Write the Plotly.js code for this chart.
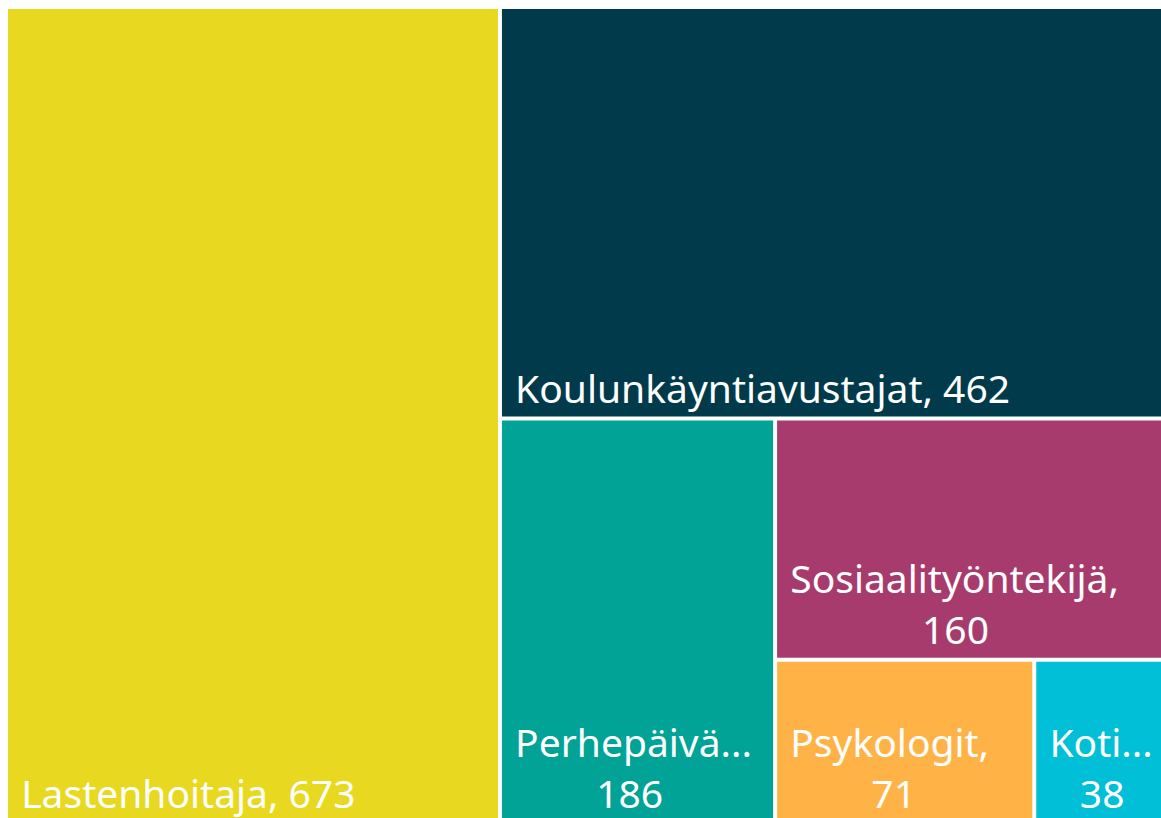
<!DOCTYPE html>
<html>
<head>
<meta charset="utf-8">
<script src="https://cdn.plot.ly/plotly-3.0.1.min.js"></script>
<style>html,body{margin:0;padding:0;background:#fff;overflow:hidden;}#chart{width:1171px;height:822px;}</style>
</head>
<body>
<div id="chart"></div>
<script>
const labels = ["Lastenhoitaja", "Koulunkäyntiavustajat", "Perhepäivä...", "Sosiaalityöntekijä", "Psykologit", "Koti..."];
const values = [673, 462, 186, 160, 71, 38];
const colors = ["#E8D920", "#013B4B", "#01A396", "#A73B6E", "#FFB347", "#01BFD6"];
const wrapped = [false, false, true, true, true, true];

const FONT_FAMILY = "Noto Sans";
const FONT_SIZE = 39;
const NB = "\u00a0";

const ctx = document.createElement("canvas").getContext("2d");
ctx.font = FONT_SIZE + "px '" + FONT_FAMILY + "'";
const nbW = ctx.measureText(NB).width || FONT_SIZE * 0.26;

const texts = labels.map((l, i) => {
  const sep = l.endsWith("...") ? "" : ",";
  const first = l + sep;
  const num = String(values[i]);
  if (!wrapped[i]) return NB + first + " " + num;
  const w1 = ctx.measureText(first).width;
  const w2 = ctx.measureText(num).width;
  const n = Math.max(0, Math.round((w1 - w2) / 2 / nbW));
  return NB + first + "<br>" + NB + NB.repeat(n) + num;
});

Plotly.newPlot("chart", [{
  type: "treemap",
  labels: labels,
  parents: labels.map(() => ""),
  values: values,
  text: texts,
  branchvalues: "total",
  sort: false,
  texttemplate: "%{text}",
  textposition: "bottom left",
  textfont: {family: FONT_FAMILY + ", Open Sans, sans-serif", size: FONT_SIZE, color: "#ffffff"},
  marker: {colors: colors, line: {width: 0}, pad: {t: 0, l: 0, r: 0, b: 0}},
  tiling: {packing: "squarify", squarifyratio: 1, pad: 4},
  pathbar: {visible: false},
  hoverinfo: "label+value"
}], {
  width: 1171, height: 822,
  margin: {l: 8, r: 0, t: 9, b: 0},
  paper_bgcolor: "#ffffff",
  showlegend: false
}, {displayModeBar: false});
</script>
</body>
</html>
